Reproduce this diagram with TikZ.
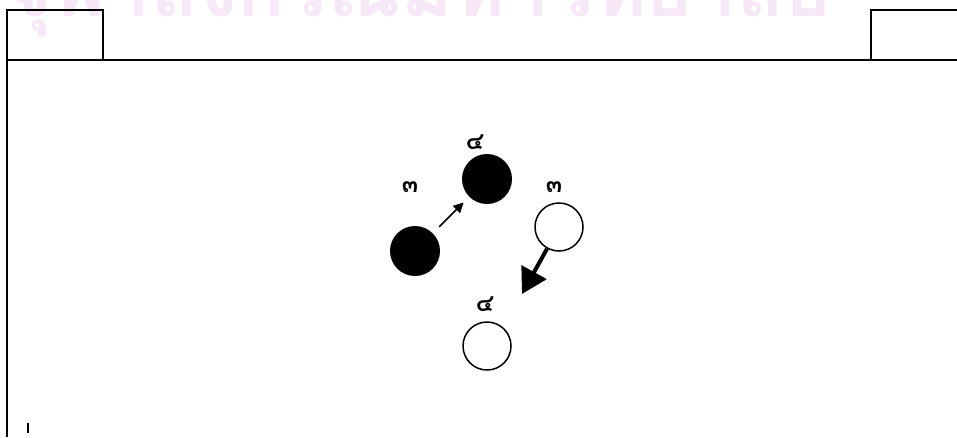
\documentclass[tikz,border=0pt]{standalone}
\usepackage{fontspec}
\newfontfamily\thaifont[Script=Thai]{Loma}
\usetikzlibrary{arrows.meta}
\definecolor{wmpink}{RGB}{246,232,246}
\begin{document}
\begin{tikzpicture}[x=1pt,y=-1pt,
  frame/.style={line width=2pt},
  dot/.style={circle,fill=black,minimum size=50pt,inner sep=0pt},
  ring/.style={circle,draw=black,fill=white,line width=1.5pt,minimum size=48pt,inner sep=0pt},
  lbl/.style={font=\thaifont\bfseries\fontsize{24}{24}\selectfont,inner sep=0pt},
  thin arrow/.style={line width=1.6pt,-{Triangle[length=10pt,width=10pt]}},
  big arrow/.style={line width=4pt,-{Triangle[length=25pt,width=28pt]}}]
\useasboundingbox (0,0) rectangle (957,437);
\begin{scope}
\clip (0,0) rectangle (957,437);
\node[anchor=base west,text=wmpink,inner sep=0pt,
  font=\thaifont\bfseries\fontsize{79}{79}\selectfont] (wmk) at (6,16) {จุฬาลงกรณ์มหาวิทยาลัย};
\draw[frame] (6.5,437) -- (6.5,60) -- (960,60);
\draw[frame] (6.5,60) -- (6.5,10) -- (103,10) -- (103,60);
\draw[frame] (960,10) -- (871,10) -- (871,60);
\end{scope}
\draw[line width=1.2pt] (28,423) -- (28,433);
\node[dot] (b1) at (415,251) {};
\node[dot] (b2) at (487,179) {};
\node[ring] (w1) at (559,227) {};
\node[ring] (w2) at (487,346) {};
\node[lbl] (l1) at (410,187) {๓};
\node[lbl] (l2) at (475,142) {๔};
\node[lbl] (l3) at (554,187) {๓};
\node[lbl] (l4) at (485,304) {๔};
\coordinate (tip) at (522,294);
\draw[thin arrow,shorten <=9pt,shorten >=8pt] (b1) -- (b2);
\draw[big arrow] (w1) -- (tip);
\end{tikzpicture}
\end{document}
